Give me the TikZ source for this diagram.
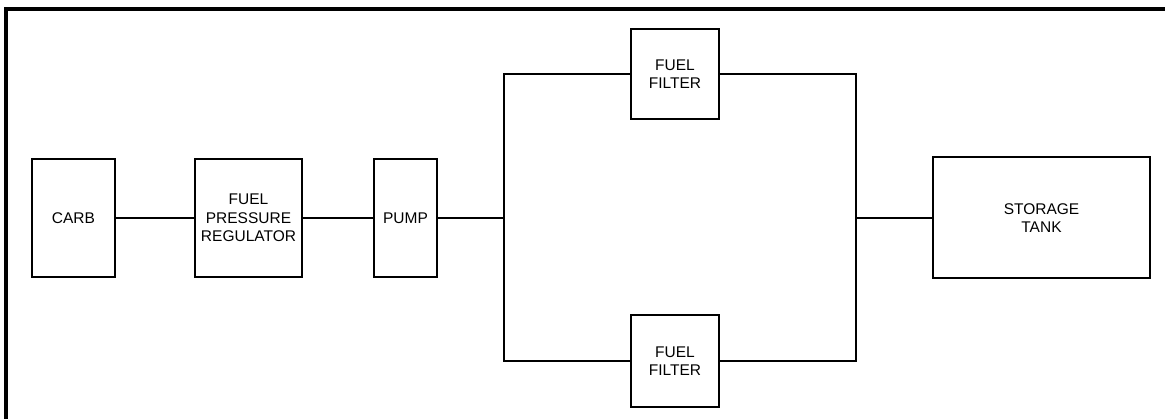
\documentclass[tikz,border=0pt]{standalone}
\usepackage{fontspec}
\setmainfont{Liberation Sans}
\usetikzlibrary{positioning,calc}

\tikzset{
  unit/.style={draw, line width=2pt, align=center, inner sep=0pt,
    font=\fontsize{15.5}{18.5}\selectfont},
  pipe/.style={line width=2pt}
}

\begin{document}
\begin{tikzpicture}[x=1pt, y=-1pt]
\useasboundingbox (0,0) rectangle (1165,419);

% Frame
\draw[line width=4pt] (5.5,419) -- (5.5,9) -- (1165,9);

% Units in line
\node[unit, minimum width=83pt, minimum height=118pt] (carb) at (73.5,218) {CARB};
\node[unit, minimum width=107pt, minimum height=118pt] (fpr) at (248.5,218) {FUEL\\PRESSURE\\REGULATOR};
\node[unit, minimum width=63pt, minimum height=118pt] (pump) at (405.5,218) {PUMP};
\node[unit, minimum width=88pt, minimum height=90pt] (ftop) at (675,74) {FUEL\\FILTER};
\node[unit, minimum width=88pt, minimum height=92pt] (fbot) at (675,361) {FUEL\\FILTER};
\node[unit, minimum width=217pt, minimum height=121pt] (tank) at (1041.5,218) {STORAGE\\TANK};

% Branch points
\coordinate (splitL) at (504,218);
\coordinate (splitR) at (856,218);

% Piping
\draw[pipe] (carb) -- (fpr);
\draw[pipe] (fpr) -- (pump);
\draw[pipe] (pump) -- (splitL);
\draw[pipe] (ftop.west) -| (splitL) |- (fbot.west);
\draw[pipe] (ftop.east) -| (splitR) |- (fbot.east);
\draw[pipe] (splitR) -- (tank.west);
\end{tikzpicture}
\end{document}
